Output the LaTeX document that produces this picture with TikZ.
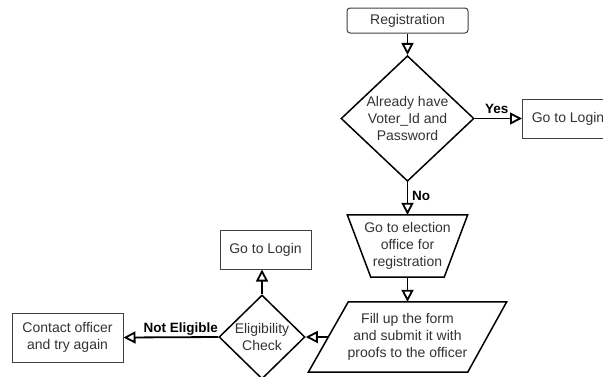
\documentclass[tikz,border=0pt]{standalone}
\usepackage{fontspec}
\setmainfont{Liberation Sans}
\usetikzlibrary{arrows.meta,shapes.geometric}
\begin{document}
\begin{tikzpicture}[x=1pt,y=-1pt,
  txt/.style={font=\fontsize{14}{16.8}\selectfont, text=black!80, align=center, inner sep=0pt},
  box/.style={txt, draw=black!75, line width=1pt, rectangle},
  dia/.style={txt, draw=black, line width=1.5pt, diamond, inner sep=0pt},
  shapeline/.style={draw=black, line width=1.5pt, line join=miter},
  conn/.style={line width=1.8pt, -{Triangle[open,length=12pt,width=12pt]}},
  lbl/.style={font=\fontsize{13.5}{15}\selectfont\bfseries, inner sep=0pt}
]
\useasboundingbox (0,0) rectangle (603,376);
\fill[white] (0,0) rectangle (603,376);
\clip (0,0) rectangle (603,376);

\node[box, rounded corners=3pt, minimum width=121pt, minimum height=25pt] (reg) at (407.5,20.5) {Registration};
\node[dia, minimum width=133pt, minimum height=123pt] (d1) at (407.5,118.5) {Already have\\Voter\_Id and\\Password};
\node[box, minimum width=91pt, minimum height=39pt, anchor=west] (gl1) at (522,118.5) {Go to Login};

\node[txt, minimum width=120pt, minimum height=62pt] (elec) at (407.5,246) {Go to election\\office for\\registration};
\draw[shapeline] (elec.north west) -- (elec.north east) -- ([xshift=-23.5pt]elec.south east) -- ([xshift=23.5pt]elec.south west) -- cycle;

\node[txt, minimum width=198pt, minimum height=70pt] (form) at (407.5,337) {Fill up the form\\and submit it with\\proofs to the officer};
\draw[shapeline] ([xshift=40pt]form.north west) -- (form.north east) -- ([xshift=-39pt]form.south east) -- (form.south west) -- cycle;

\node[dia, minimum width=86pt, minimum height=84pt] (elig) at (262,337) {Eligibility\\Check};
\node[box, minimum width=91pt, minimum height=39pt] (gl2) at (265.5,249.5) {Go to Login};
\node[box, minimum width=111pt, minimum height=49pt] (contact) at (67.5,337.5) {Contact officer\\and try again};

\draw[conn] (reg.south) -- (d1.north);
\draw[conn] (d1.east) -- (gl1.west);
\node[lbl, anchor=base west] (yes) at (485,113) {Yes};
\draw[conn] (d1.south) -- (elec.north);
\node[lbl, anchor=base west] (no) at (412,200) {No};
\draw[conn] (elec.south) -- (form.north);
\draw[conn] ([xshift=20pt]form.west) -- (elig.east);
\draw[conn] (elig.north) -- (elig.north |- gl2.south);
\draw[conn] (elig.west) -- (contact.east);
\node[lbl, anchor=base east] (ne) at (218,332) {Not Eligible};
\end{tikzpicture}
\end{document}
